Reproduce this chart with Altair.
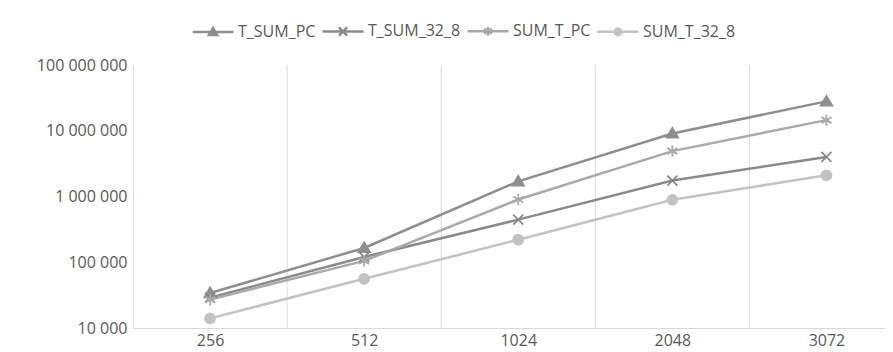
import altair as alt
import pandas as pd

# ---- data ----
sizes = ["256", "512", "1024", "2048", "3072"]
series = ["T_SUM_PC", "T_SUM_32_8", "SUM_T_PC", "SUM_T_32_8"]
t_sum_pc = [34000, 165000, 1700000, 9100000, 28000000]
t_sum_32_8 = [29000, 120000, 445000, 1750000, 4000000]
sum_t_pc = [27000, 105000, 900000, 4900000, 14500000]
sum_t_32_8 = [14000, 56000, 220000, 890000, 2100000]
y_ticks = [10000, 100000, 1000000, 10000000, 100000000]

# ---- styles ----
colors = ["#8e8e8e", "#8a8a8a", "#a9a9a9", "#c2c2c2"]
filled = [True, False, False, True]
fills = ["#8e8e8e", "transparent", "transparent", "#c2c2c2"]
marker_paths = [
    "M0,-1.1L1.15,0.85L-1.15,0.85Z",
    "M-1,-1L1,1M-1,1L1,-1",
    "M0,-1.15L0,1.15M-1,-0.6L1,0.6M-1,0.6L1,-0.6",
    "M1,0A1,1,0,1,1,-1,0A1,1,0,1,1,1,0Z",
]
legend_paths = [
    "M-1,0L1,0M0,-0.18L0.2,0.15L-0.2,0.15Z",
    "M-1,0L1,0M-0.2,-0.2L0.2,0.2M-0.2,0.2L0.2,-0.2",
    "M-1,0L1,0M0,-0.21L0,0.21M-0.19,-0.12L0.19,0.12M-0.19,0.12L0.19,-0.12",
    "M-1,0L1,0M0.16,0A0.16,0.16,0,1,1,-0.16,0A0.16,0.16,0,1,1,0.16,0Z",
]
FONT = "Open Sans"
TXT = "#595959"
GRID = "#d9d9d9"

values = [t_sum_pc, t_sum_32_8, sum_t_pc, sum_t_32_8]
rows = []
for s, vals in zip(series, values):
    for i, (lab, v) in enumerate(zip(sizes, vals)):
        rows.append({"series": s, "idx": i, "size": lab, "value": v})
df = pd.DataFrame(rows)
bounds = pd.DataFrame({"b": [i + 0.5 for i in range(len(sizes) - 1)]})

label_map = "[" + ",".join(f"'{s}'" for s in sizes) + "][datum.value]"

x_scale = alt.Scale(domain=[-0.5, 4.38], nice=False, zero=False)
y_scale = alt.Scale(type="log", domain=[y_ticks[0], y_ticks[-1]], nice=False)

x_enc = alt.X(
    "idx:Q",
    scale=x_scale,
    axis=alt.Axis(
        values=list(range(len(sizes))),
        labelExpr=label_map,
        ticks=False,
        grid=False,
        domainColor=GRID,
        labelFont=FONT,
        labelFontSize=16,
        labelColor=TXT,
        labelPadding=4,
        title=None,
    ),
)
y_enc = alt.Y(
    "value:Q",
    scale=y_scale,
    axis=alt.Axis(
        values=y_ticks,
        labelExpr="replace(format(datum.value, ','), regexp(',', 'g'), ' ')",
        ticks=False,
        grid=False,
        domainColor=GRID,
        labelFont=FONT,
        labelFontSize=16,
        labelColor=TXT,
        labelPadding=6,
        title=None,
    ),
)

legend = alt.Legend(
    orient="none",
    legendX=58,
    legendY=-56,
    direction="horizontal",
    columns=4,
    title=None,
    symbolSize=1681,
    symbolStrokeWidth=2.5,
    labelFont=FONT,
    labelFontSize=16,
    labelColor=TXT,
    labelOffset=3,
    columnPadding=1,
    padding=0,
)

grid = alt.Chart(bounds).mark_rule(color=GRID, strokeWidth=1).encode(
    x=alt.X("b:Q", scale=x_scale)
)

line_layers = []
marker_layers = []
for s, c, f, p in zip(series, colors, filled, marker_paths):
    base = alt.Chart(df).transform_filter(alt.datum.series == s)
    line_layers.append(base.mark_line(strokeWidth=2.5, color=c).encode(x=x_enc, y=y_enc))
    marker_layers.append(
        base.mark_point(shape=p, size=100, strokeWidth=1.8, opacity=1, filled=f, color=c, stroke=c)
        .encode(x=x_enc, y=y_enc)
    )

# legend-carrying layer (its data is filtered away; only the legend shows)
legend_layer = (
    alt.Chart(df)
    .transform_filter("false")
    .mark_point(filled=True, strokeWidth=2.5, opacity=1)
    .encode(
        x=x_enc,
        y=y_enc,
        fill=alt.Fill("series:N", scale=alt.Scale(domain=series, range=fills), legend=legend),
        stroke=alt.Stroke("series:N", scale=alt.Scale(domain=series, range=colors), legend=legend),
        shape=alt.Shape("series:N", scale=alt.Scale(domain=series, range=legend_paths), legend=legend),
    )
)

chart = (
    alt.layer(grid, *line_layers, *marker_layers, legend_layer)
    .properties(
        width=752,
        height=263,
        padding={"left": 125, "top": 57, "right": 0, "bottom": 24},
        autosize=alt.AutoSizeParams(type="none"),
        background="white",
    )
    .configure_view(strokeWidth=0)
)

chart.save("out.html", embed_options={"renderer": "svg", "actions": False})
